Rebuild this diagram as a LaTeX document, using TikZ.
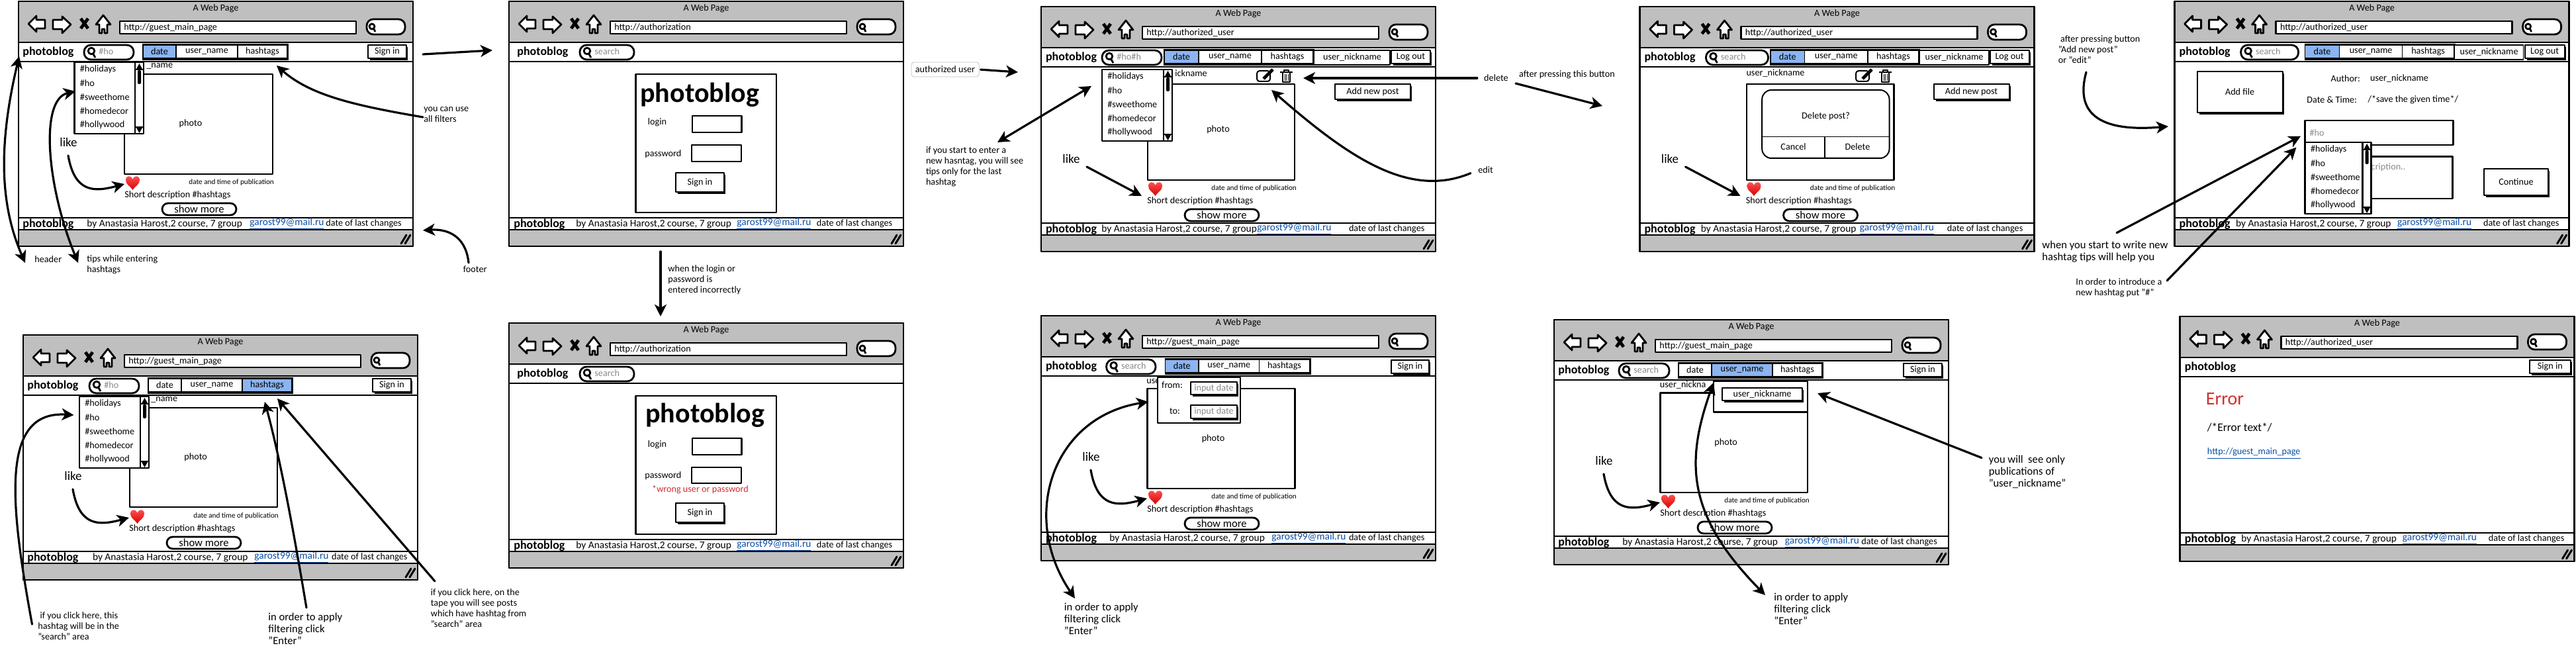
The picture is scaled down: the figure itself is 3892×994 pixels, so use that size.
\documentclass[tikz,border=0pt]{standalone}
\usepackage{fontspec}
\setmainfont{Carlito}
\usetikzlibrary{arrows.meta}
\definecolor{barc}{HTML}{BFBFBF}
\definecolor{tabc}{HTML}{8CB4F0}
\definecolor{linkc}{HTML}{0B4FA8}
\definecolor{errc}{HTML}{D32F2F}
\definecolor{hintc}{HTML}{8A8A8A}
\tikzset{
  ln/.style={line width=1.4pt,draw=black,line join=round},
  thinln/.style={line width=.8pt,draw=black,line join=round},
  tx/.style={font=\fontsize{7.1}{8}\selectfont,inner sep=0pt,anchor=west,align=left},
  txf/.style={font=\fontsize{7.7}{8}\selectfont,inner sep=0pt,anchor=west},
  txs/.style={font=\fontsize{5.6}{7}\selectfont,inner sep=0pt,anchor=west},
  txb/.style={font=\fontsize{8.3}{9}\selectfont,inner sep=0pt,anchor=west,align=left},
  txl/.style={font=\fontsize{9.5}{11}\selectfont,inner sep=0pt,anchor=west},
  logo/.style={font=\fontsize{9}{10}\bfseries\selectfont,inner sep=0pt,anchor=west},
  arr/.style={line width=1.6pt,line cap=round,draw=black},
  >={Stealth[length=9pt,width=9pt,inset=2.5pt]}
}
\newcommand{\winbase}[2]{%
  \draw[ln,fill=white] (0,0) rectangle (596,370);
  \draw[ln,fill=barc] (0,0) rectangle (596,62);
  \draw[ln,fill=barc] (0,345) rectangle (596,370);
  \draw[ln] (0,91) -- (596,91);
  \draw[ln] (0,327) -- (596,327);
  \node[tx,anchor=center] (#1-title) at (298,11) {A Web Page};
  \draw[ln,fill=white] (15,34)--(27,22)--(27,28)--(40,28)--(40,41)--(27,41)--(27,46)--cycle;
  \draw[ln,fill=white] (79,35)--(66,23)--(66,28)--(52,28)--(52,42)--(66,42)--(66,48)--cycle;
  \draw[line width=2.4pt] (94,26)--(105,41) (105,26)--(94,41);
  \draw[ln,fill=white] (128,21)--(139,35)--(134,35)--(134,48)--(130,48)--(130,42)--(126,42)--(126,48)--(122,48)--(122,35)--(117,35)--cycle;
  \draw[ln,fill=white] (153,30) rectangle (510,49);
  \node[tx] (#1-url) at (159,39.5) {#2};
  \draw[ln,fill=white,rounded corners=5pt] (526,27) rectangle (584,50);
  \draw[ln] (534,38) circle[radius=2pt] (537,42)--(539,46);
  \draw[line width=1.5pt,line cap=round] (578,366)--(586,353) (584,366)--(592,353);
}
\newcommand{\footrow}[5]{%
  \node[logo] (#1-flogo) at (#2,337) {photoblog};
  \node[txf] (#1-by) at (#3,336) {by Anastasia Harost,2 course, 7 group};
  \node[txf,text=linkc] (#1-mail) at (#4,336) {\underline{garost99@mail.ru}};
  \node[tx] (#1-changes) at (#5,336) {date of last changes};
}
\newcommand{\logoat}[2]{\node[logo] (#1-logo) at (#2,77) {photoblog};}
\newcommand{\searchfield}[4]{%
  \draw[ln,fill=white,rounded corners=5.2pt] (#2,66) rectangle (#3,88);
  \draw[ln] ({#2+11},75) circle[radius=2.4pt] ({#2+14},80)--({#2+17},85);
  \node[tx,text=hintc] (#1-search) at ({#2+22},76) {#4};
}
\newcommand{\tabcell}[5]{%
  \draw[thinln,fill=#5] (#2,66) rectangle (#3,86);
  \node[tx,anchor=center] (#1) at ({(#2+#3)/2},76) {#4};
}
\newcommand{\tabbar}[8]{% prefix x0 x1 x2 x3 fill1 fill2 fill3
  \fill[black] (#2-1,64) rectangle (#5+2,89);
  \tabcell{#1-date}{#2}{#3}{date}{#6}
  \tabcell{#1-name}{#3}{#4}{user\_name}{#7}
  \tabcell{#1-tags}{#4}{#5}{hashtags}{#8}
}
\newcommand{\btn}[6]{%
  \fill[black] ({#2+3},{#3+3}) rectangle ({#4+2},{#5+3});
  \draw[thinln,line width=1pt,fill=white] (#2,#3) rectangle (#4,#5);
  \node[tx,anchor=center] (#1) at ({(#2+#4)/2},{(#3+#5)/2}) {#6};
}
\newcommand{\tipsbox}[4]{%
  \draw[ln,fill=white] (#2,#3) rectangle ({#2+#4},{#3+108});
  \draw[ln] ({#2+#4-13},#3) -- ({#2+#4-13},{#3+108});
  \fill[black] ({#2+#4-11},{#3+10})--({#2+#4-6.5},{#3+2})--({#2+#4-2},{#3+10})--cycle;
  \fill[black] ({#2+#4-11},{#3+99})--({#2+#4-6.5},{#3+107})--({#2+#4-2},{#3+99})--cycle;
  \draw[thinln] ({#2+#4-13},{#3+11})--({#2+#4},{#3+11}) ({#2+#4-13},{#3+98})--({#2+#4},{#3+98});
  \fill[black,rounded corners=1pt] ({#2+#4-9},{#3+12}) rectangle ({#2+#4-4},{#3+33});
  \node[tx] (#1-tip1) at ({#2+8},{#3+11}) {\#holidays};
  \node[tx] (#1-tip2) at ({#2+8},{#3+32}) {\#ho};
  \node[tx] (#1-tip3) at ({#2+8},{#3+53}) {\#sweethome};
  \node[tx] (#1-tip4) at ({#2+8},{#3+74}) {\#homedecor};
  \node[tx] (#1-tip5) at ({#2+8},{#3+95}) {\#hollywood};
}
\newcommand{\postlow}[2]{%
  \shade[top color=red!65!white,bottom color=red!85!black,shift={(0,#2)}] (172.5,285) .. controls (168,278) and (162,277) .. (162,270) .. controls (162,263) and (170,262) .. (172.5,269) .. controls (175,262) and (183,263) .. (183,270) .. controls (183,277) and (177,278) .. (172.5,285) -- cycle;
  \node[txs] (#1-when) at (257,{274+#2}) {date and time of publication};
  \node[tx] (#1-short) at (160,{293+#2}) {Short description \#hashtags};
  \draw[ln,fill=white,rounded corners=4.5pt] (217,{305+#2}) rectangle (329,{323+#2});
  \node[txb,anchor=center] (#1-more) at (273,{314+#2}) {show more};
}
\newcommand{\likecurve}[1]{%
  \node[txl] (#1-like) at (62,213) {like};
  \coordinate (#1-likeA) at (75,233);
  \coordinate (#1-likeB) at (160,276);
  \draw[arr,->] (#1-likeA) .. controls (85,290) and (115,288) .. (#1-likeB);
}
\newcommand{\likeline}[1]{%
  \node[txl] (#1-like) at (32,230) {like};
  \coordinate (#1-likeA) at (69,242);
  \coordinate (#1-likeB) at (152,286);
  \draw[arr,->] (#1-likeA) -- (#1-likeB);
}
\newcommand{\editicons}[2]{%
  \draw[thinln,line width=1pt,rounded corners=2pt] ({#2+323},97) rectangle ({#2+343},113);
  \draw[line width=2.4pt] ({#2+333},109)--({#2+347},95);
  \draw[thinln] ({#2+358},99)--({#2+377},99) ({#2+362},99) rectangle ({#2+373},114);
  \draw[line width=.5pt] ({#2+365},102)--({#2+365},112) ({#2+367.5},102)--({#2+367.5},112) ({#2+370},102)--({#2+370},112);
  \draw[thinln] ({#2+364},99)--({#2+364},96)--({#2+371},96)--({#2+371},99);
}
\begin{document}
\begin{tikzpicture}[x=.5pt,y=-.5pt]
\useasboundingbox (0,0) rectangle (3892,994);
% ---------- W1
\begin{scope}[shift={(28,2)}]
  \winbase{a}{http://guest\_main\_page}
  \logoat{a}{6}
  \searchfield{a}{99}{174}{\#ho}
  \tabbar{a}{188}{238}{331}{406}{tabc}{white}{white}
  \btn{a-sign}{528}{66}{586}{86}{Sign in}
  \node[tx] (a-user) at (193,98) {\_name};
  \draw[ln] (160,110) rectangle (384,261);
  \node[tx,anchor=center] (a-photo) at (260,185) {photo};
  \tipsbox{a}{84.5}{92}{104.5}
  \postlow{a}{0}
  \likecurve{a}
  \footrow{a}{6}{103}{349}{464}
\end{scope}
% ---------- W2
\begin{scope}[shift={(769,2)}]
  \winbase{b}{http://authorization}
  \logoat{b}{12}
  \searchfield{b}{107}{189}{search}
  \draw[ln] (191.6,110) rectangle (404,319);
  \node[logo,font=\fontsize{21}{24}\bfseries\selectfont] (b-big) at (198,141) {photoblog};
  \node[tx] (b-login) at (209.5,183) {login};
  \draw[ln] (277,173) rectangle (351.7,198);
  \node[tx] (b-pass) at (205,231) {password};
  \draw[ln] (276,217) rectangle (351,242);
  \btn{b-sign}{252}{259}{325}{288}{Sign in}
  \footrow{b}{7}{101}{344}{464.5}
\end{scope}
% ---------- W3
\begin{scope}[shift={(35,506)}]
  \winbase{c}{http://guest\_main\_page}
  \logoat{c}{6}
  \searchfield{c}{100}{175}{\#ho}
  \tabbar{c}{189}{239}{331}{406}{white}{white}{tabc}
  \btn{c-sign}{528}{66}{586}{86}{Sign in}
  \node[tx] (c-user) at (193,98) {\_name};
  \draw[ln] (161,110) rectangle (384,260);
  \node[tx,anchor=center] (c-photo) at (260.7,185) {photo};
  \tipsbox{c}{85}{93}{105}
  \postlow{c}{0}
  \likecurve{c}
  \footrow{c}{6}{104.6}{349}{465.7}
\end{scope}
% ---------- W4
\begin{scope}[shift={(769,488)}]
  \winbase{d}{http://authorization}
  \logoat{d}{12}
  \searchfield{d}{107}{189}{search}
  \draw[ln] (191.6,110) rectangle (404,319);
  \node[logo,font=\fontsize{21}{24}\bfseries\selectfont] (d-big) at (206,139) {photoblog};
  \node[tx] (d-login) at (209.5,184) {login};
  \draw[ln] (277,174) rectangle (351.7,199);
  \node[tx] (d-pass) at (205,231) {password};
  \draw[ln] (276,218) rectangle (351,242);
  \node[tx,text=errc] (d-wrong) at (215.8,252) {*wrong user or password};
  \btn{d-sign}{252}{272}{325}{301}{Sign in}
  \footrow{d}{7}{101}{344}{464.5}
\end{scope}
% ---------- W5
\begin{scope}[shift={(1573,10)}]
  \winbase{e}{http://authorized\_user}
  \logoat{e}{6.6}
  \searchfield{e}{92}{182}{\#ho\#h}
  \tabbar{e}{186}{238}{333}{411}{tabc}{white}{white}
  \draw[thinln,fill=white] (412.6,66) rectangle (527,88);
  \node[tx,anchor=center] (e-nick) at (470,77) {user\_nickname};
  \btn{e-log}{529}{66}{588}{86}{Log out}
  \node[tx] (e-user) at (202,101) {ickname};
  \editicons{e}{3}
  \draw[ln] (161,117) rectangle (383,262);
  \node[tx,anchor=center] (e-photo) at (267.5,186) {photo};
  \btn{e-add}{444}{117}{558}{140}{Add new post}
  \tipsbox{e}{92}{95}{106}
  \postlow{e}{1}
  \likeline{e}
  \footrow{e}{6.6}{91}{326}{464.6}
\end{scope}
% ---------- W6
\begin{scope}[shift={(1573,477)}]
  \winbase{f}{http://guest\_main\_page}
  \logoat{f}{6.6}
  \searchfield{f}{98.6}{173}{search}
  \tabbar{f}{187.6}{238}{329.6}{405.6}{tabc}{white}{white}
  \btn{f-sign}{529}{67}{586}{87}{Sign in}
  \node[tx] (f-user) at (159,99) {use};
  \draw[ln] (160.6,110) rectangle (383.6,261);
  \node[tx,anchor=center] (f-photo) at (260,185.6) {photo};
  \draw[ln,fill=white] (176,93) rectangle (301,162);
  \node[tx,anchor=center] (f-from) at (198,104.6) {from:};
  \btn{f-in1}{226}{100}{296}{119}{\textcolor{hintc}{input date}}
  \node[tx,anchor=center] (f-to) at (202,144) {to:};
  \btn{f-in2}{226}{134.6}{296}{155}{\textcolor{hintc}{input date}}
  \postlow{f}{0}
  \likecurve{f}
  \footrow{f}{6.6}{103}{348}{464.6}
\end{scope}
% ---------- W7
\begin{scope}[shift={(2477.5,10)}]
  \winbase{g}{http://authorized\_user}
  \logoat{g}{6.6}
  \searchfield{g}{100}{194}{search}
  \tabbar{g}{197.5}{249}{344.5}{421.5}{tabc}{white}{white}
  \draw[thinln,fill=white] (423,66) rectangle (527.5,88);
  \node[tx,anchor=center] (g-nick) at (475,77) {user\_nickname};
  \btn{g-log}{529}{66}{588}{86}{Log out}
  \node[tx] (g-user) at (160.6,101) {user\_nickname};
  \editicons{g}{3.5}
  \draw[ln] (161.5,117) rectangle (384,262);
  \draw[thinln,line width=1pt,rounded corners=7pt] (184.7,126) rectangle (377,229);
  \draw[thinln] (184.7,196.7)--(377,196.7) (279.5,196.7)--(279.5,229);
  \node[tx,anchor=center] (g-ask) at (281,166) {Delete post?};
  \node[tx,anchor=center] (g-cancel) at (232,212) {Cancel};
  \node[tx,anchor=center] (g-del) at (329,212) {Delete};
  \btn{g-add}{444}{117}{558}{140}{Add new post}
  \postlow{g}{1}
  \likeline{g}
  \footrow{g}{6.6}{92}{332}{464}
\end{scope}
% ---------- W8
\begin{scope}[shift={(2348,483)}]
  \winbase{h}{http://guest\_main\_page}
  \logoat{h}{6}
  \searchfield{h}{98}{174}{search}
  \tabbar{h}{188}{238}{330}{405}{white}{tabc}{white}
  \btn{h-sign}{528}{66}{586}{86}{Sign in}
  \node[tx] (h-user) at (159.5,98.6) {user\_nickna};
  \draw[ln] (160.5,110.5) rectangle (383,261);
  \node[tx,anchor=center] (h-photo) at (259.6,185.4) {photo};
  \draw[ln,fill=white] (241,93) rectangle (383,139.5);
  \btn{h-nick}{254}{103}{375}{122}{user\_nickname}
  \postlow{h}{0}
  \likecurve{h}
  \footrow{h}{6}{103}{348.5}{464}
\end{scope}
% ---------- W9
\begin{scope}[shift={(3285.6,2)}]
  \winbase{i}{http://authorized\_user}
  \logoat{i}{6.6}
  \searchfield{i}{100}{187}{search}
  \tabbar{i}{197}{249}{344}{422}{tabc}{white}{white}
  \draw[thinln,fill=white] (423,66) rectangle (527,88);
  \node[tx,anchor=center] (i-nick) at (475,77) {user\_nickname};
  \btn{i-log}{529}{66}{589}{86}{Log out}
  \btn{i-file}{34}{106}{163}{168}{Add file}
  \node[tx] (i-author) at (235.7,117) {Author:};
  \node[tx] (i-nickname) at (295,117) {user\_nickname};
  \node[tx] (i-date) at (199.4,148.7) {Date \& Time:};
  \node[tx] (i-time) at (291.5,148.7) {/*save the given time*/};
  \draw[ln] (197,180) rectangle (421,217);
  \node[tx,text=hintc] (i-tagtext) at (203.5,198.7) {\#ho};
  \draw[ln] (197,234.7) rectangle (420,298);
  \node[tx,text=hintc] (i-desc) at (296.7,250.7) {cription..};
  \btn{i-cont}{467.6}{253}{564}{293}{Continue}
  \tipsbox{i}{197}{213}{100}
  \footrow{i}{6.6}{92}{336}{466}
\end{scope}
% ---------- W10
\begin{scope}[shift={(3293.5,478)}]
  \winbase{j}{http://authorized\_user}
  \logoat{j}{7}
  \btn{j-sign}{528.6}{66}{590}{86}{Sign in}
  \node[tx,text=errc,font=\fontsize{14}{17}\selectfont] (j-err) at (39,125) {Error};
  \node[txb,font=\fontsize{8.7}{11}\selectfont] (j-text) at (41,168) {/*Error text*/};
  \node[tx,text=linkc] (j-link) at (41,207) {\underline{http://guest\_main\_page}};
  \footrow{j}{7}{92.5}{336}{466}
\end{scope}
% ---------- annotations
\node[tx] (n-header) at (52,392) {header};
\node[tx] (n-tips) at (131,400) {tips while entering\\hashtags};
\node[tx] (n-filters) at (640,173) {you can use\\all filters};
\node[tx] (n-footer) at (699.5,407) {footer};
\coordinate (p-h1) at (29,85);
\coordinate (p-h2) at (38,397);
\draw[arr,<->] (p-h1) .. controls (-3,220) and (0,310) .. (p-h2);
\coordinate (p-t1) at (114,138);
\coordinate (p-t2) at (118,397);
\draw[arr,<->] (p-t1) .. controls (60,150) and (70,280) .. (p-t2);
\coordinate (p-f0) at (639,177);
\coordinate (p-f1) at (418,99);
\draw[arr,->] (p-f0) .. controls (540,160) and (470,145) .. (p-f1);
\coordinate (p-n0) at (639,82);
\coordinate (p-n1) at (744,76);
\draw[arr,->] (p-n0) -- (p-n1);
\coordinate (p-ft0) at (708,397);
\coordinate (p-ft1) at (639,348);
\draw[arr,->] (p-ft0) .. controls (705,365) and (685,345) .. (p-ft1);

\node[tx] (n-clickA) at (57,946) {\ if you click here, this\\hashtag will be in the\\"search" area};
\node[txb] (n-enterA) at (405,950) {in order to apply\\filtering click\\"Enter"};
\node[tx] (n-clickB) at (650.5,919) {if you click here, on the\\tape you will see posts\\which have hashtag from\\"search" area};
\coordinate (p-c1) at (48.5,943);
\coordinate (p-c2) at (111.5,627);
\draw[arr,->] (p-c1) .. controls (15,760) and (0,620) .. (p-c2);
\coordinate (p-e1) at (463,918);
\coordinate (p-e2) at (400,607);
\draw[arr,->] (p-e1) .. controls (440,780) and (420,680) .. (p-e2);
\coordinate (p-k1) at (657,878);
\coordinate (p-k2) at (419,602);
\draw[arr,->] (p-k1) -- (p-k2);

\node[tx] (n-wrong) at (1009,423) {when the login or\\password is\\entered incorrectly};
\coordinate (p-w1) at (998,380);
\coordinate (p-w2) at (998,478);
\draw[arr,->] (p-w1) -- (p-w2);
\node[tx,draw=black!25,line width=.4pt,rounded corners=2pt,inner sep=3pt] (n-auth) at (1376.5,105) {authorized user};
\coordinate (p-a2) at (1538,109);
\draw[arr,->,shorten <=1pt] (n-auth.east) -- (p-a2);
\node[tx] (n-start) at (1398.6,252) {if you start to enter a\\new hasntag, you will see\\tips only for the last\\hashtag};
\coordinate (p-s1) at (1507,215);
\coordinate (p-s2) at (1649,130);
\draw[arr,<->] (p-s1) -- (p-s2);
\node[tx] (n-delete) at (2241.8,118) {delete};
\coordinate (p-d2) at (1969,118);
\draw[arr,->,shorten <=5pt] (n-delete.west) -- (p-d2);
\node[tx] (n-edit) at (2233,257) {edit};
\coordinate (p-ed2) at (1921,136);
\draw[arr,->,shorten <=6pt] (n-edit.west) .. controls (2130,300) and (2040,240) .. (p-ed2);
\node[tx] (n-after) at (2294.8,113) {after pressing this button};
\coordinate (p-af1) at (2290,126);
\coordinate (p-af2) at (2421,160);
\draw[arr,->] (p-af1) -- (p-af2);

\node[txb] (n-enterB) at (1607.5,935) {in order to apply\\filtering click\\"Enter"};
\coordinate (p-b1) at (1735,607);
\coordinate (p-b2) at (1624,904);
\draw[arr,<->] (p-b1) .. controls (1590,630) and (1540,780) .. (p-b2);

\node[txb] (n-enterC) at (2680,920) {in order to apply\\filtering click\\"Enter"};
\coordinate (p-g1) at (2589,578);
\coordinate (p-g2) at (2667,899);
\draw[arr,<->] (p-g1) .. controls (2545,700) and (2550,780) .. (p-g2);
\node[txb] (n-only) at (3004.5,713) {you will\ \ see only\\publications of\\"user\_nickname"};
\coordinate (p-o1) at (2994,691.6);
\coordinate (p-o2) at (2746,594);
\draw[arr,->] (p-o1) -- (p-o2);

\node[tx] (n-press) at (3109.5,74.7) {\ after pressing button\\"Add new post"\\or "edit"};
\coordinate (p-r1) at (3152,109);
\coordinate (p-r2) at (3276,191);
\draw[arr,->] (p-r1) .. controls (3135,170) and (3170,200) .. (p-r2);
\node[txb] (n-write) at (3085,380) {when you start to write new\\hashtag tips will help you};
\coordinate (p-x1) at (3198,351.7);
\coordinate (p-x2) at (3476,205.7);
\draw[arr,->] (p-x1) -- (p-x2);
\node[tx] (n-intro) at (3136,435) {In order to introduce a\\new hashtag put "\#"};
\coordinate (p-y1) at (3274,424);
\coordinate (p-y2) at (3469.4,222.7);
\draw[arr,->] (p-y1) -- (p-y2);
\end{tikzpicture}
\end{document}
